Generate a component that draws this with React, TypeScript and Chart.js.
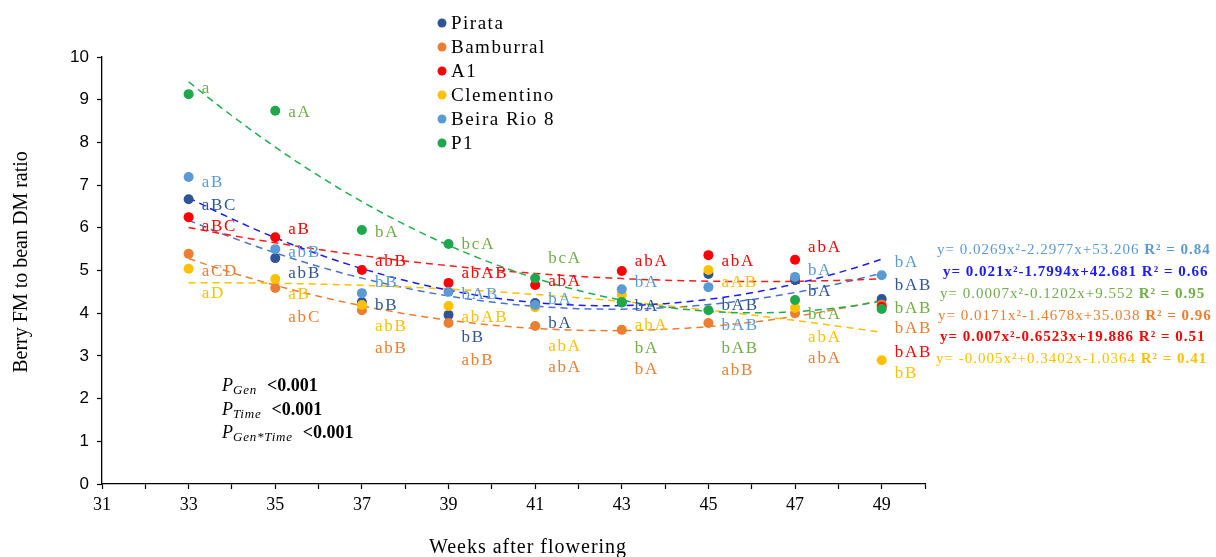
import React, { useEffect, useRef } from 'react';
import { Chart, registerables } from 'chart.js';

Chart.register(...registerables);

// ---------- data ----------
const weeks = [33, 35, 37, 39, 41, 43, 45, 47, 49];
const xTickLabels = ['31', '33', '35', '37', '39', '41', '43', '45', '47', '49'];
const seriesNames = ['Pirata', 'Bamburral', 'A1', 'Clementino', 'Beira Rio 8', 'P1'];

const pirata = [6.67, 5.29, 4.26, 3.96, 4.24, 4.25, 4.92, 4.78, 4.33];
const bamburral = [5.39, 4.59, 4.07, 3.77, 3.70, 3.61, 3.77, 4.00, 4.20];
const a1 = [6.25, 5.78, 5.01, 4.71, 4.66, 4.99, 5.36, 5.25, 4.15];
const clementino = [5.04, 4.80, 4.19, 4.17, 4.14, 4.43, 5.01, 4.12, 2.90];
const beiraRio = [7.19, 5.50, 4.47, 4.50, 4.19, 4.56, 4.61, 4.85, 4.89];
const p1 = [9.13, 8.74, 5.95, 5.62, 4.82, 4.26, 4.07, 4.31, 4.10];

// significance letters next to each point
const pirataLetters = ['aBC', 'abB', 'bB', 'bB', 'bA', 'bA', 'bAB', 'bA', 'bAB'];
const bamburralLetters = ['aCD', 'abC', 'abB', 'abB', 'abA', 'bA', 'abB', 'abA', 'bAB'];
const a1Letters = ['aBC', 'aB', 'abB', 'abAB', 'abA', 'abA', 'abA', 'abA', 'bAB'];
const clementinoLetters = ['aD', 'aB', 'abB', 'abAB', 'abA', 'abA', 'aAB', 'abA', 'bB'];
const beiraRioLetters = ['aB', 'abB', 'bB', 'bAB', 'bA', 'bA', 'bAB', 'bA', 'bA'];
const p1Letters = ['a', 'aA', 'bA', 'bcA', 'bcA', 'bA', 'bAB', 'bcA', 'bAB'];

// level (in y units) at which each letter group is written
const pirataLetterLevel = [6.53, 4.94, 4.19, 3.44, 3.75, 4.15, 4.19, 4.50, 4.64];
const bamburralLetterLevel = [4.97, 3.89, 3.18, 2.90, 2.72, 2.67, 2.65, 2.95, 3.63];
const a1LetterLevel = [6.02, 5.95, 5.20, 4.94, 4.75, 5.22, 5.20, 5.53, 3.09];
const clementinoLetterLevel = [4.47, 4.43, 3.68, 3.91, 3.21, 3.70, 4.71, 3.44, 2.58];
const beiraRioLetterLevel = [7.05, 5.41, 4.71, 4.43, 4.31, 4.71, 3.70, 4.99, 5.18];
const p1LetterLevel = [9.27, 8.71, 5.90, 5.60, 5.29, 3.18, 3.18, 3.98, 4.12];

const equations = [
  'y= 0.0269x²-2.2977x+53.206',
  'y= 0.021x²-1.7994x+42.681',
  'y= 0.0007x²-0.1202x+9.552',
  'y= 0.0171x²-1.4678x+35.038',
  'y= 0.007x²-0.6523x+19.886',
  'y= -0.005x²+0.3402x-1.0364',
];
const r2Texts = ['R² = 0.84', 'R² = 0.66', 'R² = 0.95', 'R² = 0.96', 'R² = 0.51', 'R² = 0.41'];
const pSubscripts = ['Gen', 'Time', 'Gen*Time'];
const pValueText = '<0.001';

// ---------- styles ----------
const SERIF = '"Liberation Serif", "Times New Roman", serif';
const SANS = '"Liberation Sans", Arial, sans-serif';
const pointColors = ['#2f5597', '#ed7d31', '#ff0000', '#ffc000', '#5b9bd5', '#1fa84b'];
const letterColors = ['#2f5597', '#ed7d31', '#ff0000', '#ffc000', '#5b9bd5', '#70ad47'];
const trendColors = ['#4a72cf', '#ed7d31', '#ff1a1a', '#ffc000', '#1a1aff', '#1fae4f'];
const eqColors = ['#5b9bd5', '#1a1aff', '#70ad47', '#ed7d31', '#ff0000', '#ffc000'];
const eqBold = [false, true, false, false, true, false];
const eqX = [937, 943, 940, 938, 940, 936];
const eqY = [250, 272, 294, 316, 337, 359];

const allValues = [pirata, bamburral, a1, clementino, beiraRio, p1];
const allLetters = [pirataLetters, bamburralLetters, a1Letters, clementinoLetters, beiraRioLetters, p1Letters];
const allLevels = [pirataLetterLevel, bamburralLetterLevel, a1LetterLevel, clementinoLetterLevel, beiraRioLetterLevel, p1LetterLevel];

// least-squares quadratic fit (polynomial trendline of order 2)
function quadFit(xs: number[], ys: number[]) {
  const c = 41;
  const S = [0, 0, 0, 0, 0];
  const T = [0, 0, 0];
  xs.forEach((x, i) => {
    const t = x - c;
    for (let k = 0; k < 5; k++) S[k] += Math.pow(t, k);
    for (let k = 0; k < 3; k++) T[k] += ys[i] * Math.pow(t, k);
  });
  const M = [
    [S[0], S[1], S[2], T[0]],
    [S[1], S[2], S[3], T[1]],
    [S[2], S[3], S[4], T[2]],
  ];
  for (let i = 0; i < 3; i++) {
    let p = i;
    for (let r = i + 1; r < 3; r++) if (Math.abs(M[r][i]) > Math.abs(M[p][i])) p = r;
    [M[i], M[p]] = [M[p], M[i]];
    for (let r = 0; r < 3; r++) {
      if (r === i) continue;
      const f = M[r][i] / M[i][i];
      for (let k = i; k < 4; k++) M[r][k] -= f * M[i][k];
    }
  }
  const coef = [M[0][3] / M[0][0], M[1][3] / M[1][1], M[2][3] / M[2][2]];
  return (x: number) => coef[0] + coef[1] * (x - c) + coef[2] * (x - c) * (x - c);
}

function trendPoints(values: number[]) {
  const f = quadFit(weeks, values);
  const pts: { x: number; y: number }[] = [];
  const x0 = weeks[0];
  const x1 = weeks[weeks.length - 1];
  for (let x = x0; x <= x1 + 1e-9; x += 0.25) pts.push({ x, y: f(x) });
  return pts;
}

function drawSpaced(ctx: CanvasRenderingContext2D, text: string, x: number, y: number, spacing: number) {
  (ctx as any).letterSpacing = spacing + 'px';
  ctx.fillText(text, x, y);
  const w = ctx.measureText(text).width;
  (ctx as any).letterSpacing = '0px';
  return w;
}

const overlayPlugin = {
  id: 'overlay',
  afterDraw(chart: any) {
    const ctx: CanvasRenderingContext2D = chart.ctx;
    const xs = chart.scales.x;
    const ys = chart.scales.y;
    ctx.save();

    // significance letters
    ctx.textBaseline = 'middle';
    ctx.textAlign = 'left';
    ctx.font = `17px ${SERIF}`;
    allLetters.forEach((letters, s) => {
      ctx.fillStyle = letterColors[s];
      letters.forEach((txt, i) => {
        const px = xs.getPixelForValue(weeks[i]) + 13;
        const py = ys.getPixelForValue(allLevels[s][i]);
        drawSpaced(ctx, txt, px, py, 1.8);
      });
    });

    // legend
    ctx.font = `19px ${SERIF}`;
    seriesNames.forEach((name, i) => {
      const cy = 23 + i * 24;
      ctx.fillStyle = pointColors[i];
      ctx.beginPath();
      ctx.arc(442, cy, 4.5, 0, Math.PI * 2);
      ctx.fill();
      ctx.fillStyle = '#000';
      drawSpaced(ctx, name, 451, cy + 1, 1.5);
    });

    // trendline equations
    equations.forEach((eq, i) => {
      ctx.fillStyle = eqColors[i];
      ctx.font = `${eqBold[i] ? 'bold ' : ''}15px ${SERIF}`;
      const w = drawSpaced(ctx, eq + ' ', eqX[i], eqY[i], 1);
      ctx.font = `bold 15px ${SERIF}`;
      drawSpaced(ctx, r2Texts[i], eqX[i] + w, eqY[i], 1);
    });

    // P values
    ctx.textBaseline = 'alphabetic';
    ctx.fillStyle = '#000';
    pSubscripts.forEach((sub, i) => {
      const base = 391 + i * 23.5;
      ctx.font = `italic 18px ${SERIF}`;
      const wP = drawSpaced(ctx, 'P', 222, base, 0);
      ctx.font = `italic 13px ${SERIF}`;
      const wS = drawSpaced(ctx, sub, 222 + wP, base + 3, 0.8);
      ctx.font = `bold 18px ${SERIF}`;
      drawSpaced(ctx, pValueText, 222 + wP + wS + 10, base, 0);
    });

    // axis titles
    ctx.font = `20px ${SERIF}`;
    ctx.textAlign = 'center';
    ctx.textBaseline = 'alphabetic';
    (ctx as any).letterSpacing = '1px';
    ctx.fillText('Weeks after flowering', 528, 553);
    (ctx as any).letterSpacing = '0px';
    ctx.save();
    ctx.translate(27, 262);
    ctx.rotate(-Math.PI / 2);
    ctx.textBaseline = 'alphabetic';
    ctx.fillText('Berry FM to bean DM ratio', 0, 0);
    ctx.restore();

    ctx.restore();
  },
};

export default function App() {
  const ref = useRef<HTMLCanvasElement | null>(null);
  useEffect(() => {
    document.body.style.margin = '0';
    const canvas = ref.current;
    if (!canvas) return;

    const pointSets = allValues.map((vals, i) => ({
      label: seriesNames[i],
      data: weeks.map((w, j) => ({ x: w, y: vals[j] })),
      showLine: false,
      pointRadius: 5,
      pointBorderWidth: 0,
      pointBackgroundColor: pointColors[i],
      pointBorderColor: pointColors[i],
      order: 6 - i,
    }));
    const trendSets = allValues.map((vals, i) => ({
      label: seriesNames[i] + ' trend',
      data: trendPoints(vals),
      showLine: true,
      pointRadius: 0,
      borderColor: trendColors[i],
      borderWidth: 1.5,
      borderDash: [7, 5],
      fill: false,
      tension: 0,
      order: 20 - i,
    }));

    const axisGrid = {
      drawOnChartArea: false,
      drawTicks: true,
      tickLength: 5,
      tickColor: '#000',
      tickWidth: 1.2,
    };

    const chart = new Chart(canvas, {
      type: 'scatter',
      data: { datasets: [...trendSets, ...pointSets] as any },
      options: {
        animation: false,
        responsive: false,
        layout: { padding: { top: 57, right: 291, left: 0, bottom: 0 } },
        plugins: { legend: { display: false }, tooltip: { enabled: false } },
        scales: {
          x: {
            type: 'linear',
            min: 31,
            max: 50,
            afterFit: (s: any) => {
              s.height = 73;
            },
            ticks: {
              stepSize: 1,
              autoSkip: false,
              maxRotation: 0,
              padding: 5,
              color: '#000',
              font: { family: SERIF, size: 18 },
              callback: (v: any) => (xTickLabels.includes(String(v)) ? String(v) : ''),
            },
            grid: axisGrid,
            border: { display: true, color: '#000', width: 1.3 },
          },
          y: {
            min: 0,
            max: 10,
            afterFit: (s: any) => {
              s.width = 102;
            },
            ticks: {
              stepSize: 1,
              padding: 8,
              color: '#000',
              font: { family: SANS, size: 17 },
            },
            grid: axisGrid,
            border: { display: true, color: '#000', width: 1.3 },
          },
        },
      },
      plugins: [overlayPlugin],
    });
    return () => chart.destroy();
  }, []);

  return (
    <div style={{ width: 1216, height: 557, position: 'relative' }}>
      <canvas ref={ref} width={1216} height={557} style={{ display: 'block' }} />
    </div>
  );
}
